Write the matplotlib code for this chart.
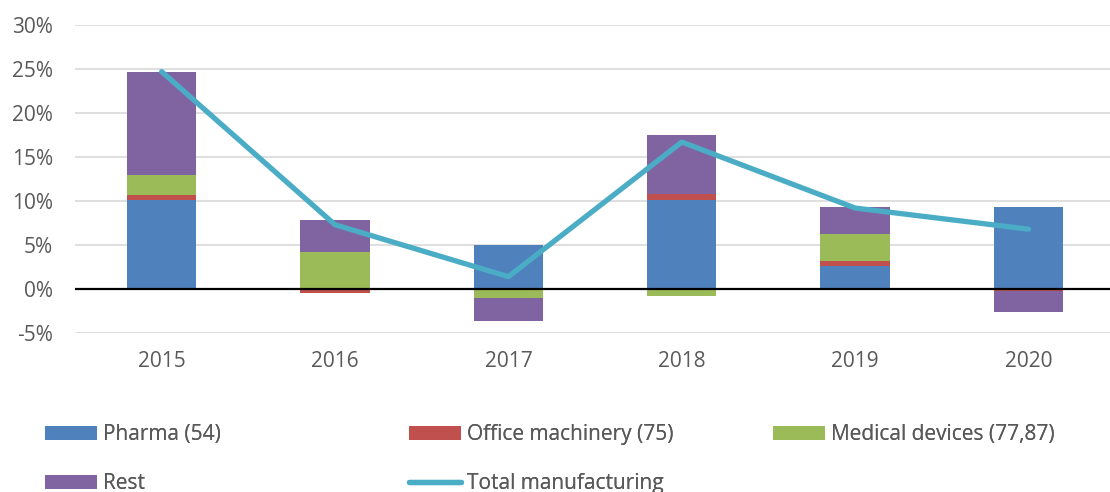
import matplotlib
matplotlib.use("Agg")
import matplotlib.pyplot as plt
import numpy as np
from matplotlib.ticker import FuncFormatter

years = ["2015", "2016", "2017", "2018", "2019", "2020"]
pharma = [10.1, 0.0, 5.0, 10.1, 2.6, 9.3]
office = [0.6, -0.5, 0.0, 0.7, 0.6, -0.2]
medical = [2.3, 4.2, -1.05, -0.8, 3.0, 0.0]
rest = [11.7, 3.6, -2.55, 6.7, 3.1, -2.4]
total = [24.7, 7.3, 1.4, 16.7, 9.2, 6.8]

series = [("Pharma (54)", pharma, "#4F81BD"),
          ("Office machinery (75)", office, "#C0504D"),
          ("Medical devices (77,87)", medical, "#9BBB59"),
          ("Rest", rest, "#8064A2")]

plt.rcParams['font.family'] = ['Open Sans', 'DejaVu Sans']
FS = 15

fig = plt.figure(figsize=(11.1, 4.92), dpi=100)
ax = fig.add_axes([75/1110, 1-333/492, 1 - 75/1110, (333-25)/492])

x = np.arange(len(years))
pos_base = np.zeros(len(years))
neg_base = np.zeros(len(years))
handles = []
for name, vals, col in series:
    v = np.array(vals, dtype=float)
    bottoms = np.where(v >= 0, pos_base, neg_base)
    b = ax.bar(x, v, width=0.4, bottom=bottoms, color=col, label=name, zorder=2,
               edgecolor='none')
    pos_base = pos_base + np.where(v >= 0, v, 0)
    neg_base = neg_base + np.where(v < 0, v, 0)
    handles.append(b)

ln, = ax.plot(x, total, color="#4BACC6", lw=3.8, solid_capstyle='round',
              solid_joinstyle='round', label="Total manufacturing", zorder=3)

ax.axhline(0, color='black', lw=1.6, zorder=4)
ax.set_ylim(-5, 30)
ax.set_xlim(-0.5, 5.47)
ax.set_yticks(np.arange(-5, 31, 5))
ax.yaxis.set_major_formatter(FuncFormatter(lambda v, p: f"{int(v)}%"))
ax.set_xticks(x)
ax.set_xticklabels(years)
ax.grid(axis='y', color='#D9D9D9', lw=1.2, zorder=0)
ax.set_axisbelow(True)
for s in ax.spines.values():
    s.set_visible(False)
ax.tick_params(axis='both', length=0, labelsize=FS, colors='#595959')
ax.tick_params(axis='x', pad=13)
ax.tick_params(axis='y', pad=16)

cols = [([handles[0], handles[3]], 45), ([handles[1], ln], 409), ([handles[2]], 773)]
for hs, xpx in cols:
    leg = fig.legend(hs, [h.get_label() for h in hs], loc='upper left',
                     bbox_to_anchor=(xpx/1110, 1-424/492), ncol=1, frameon=False,
                     fontsize=FS, labelcolor='#595959', borderpad=0, borderaxespad=0,
                     handlelength=2.5, handleheight=0.67, handletextpad=0.29,
                     labelspacing=1.35)
    fig.add_artist(leg)

fig.savefig("out.png", dpi=100)
